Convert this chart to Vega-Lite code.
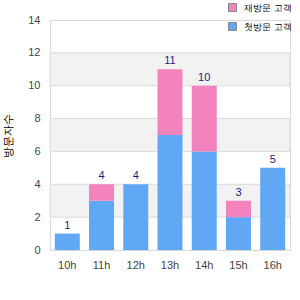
{
  "$schema": "https://vega.github.io/schema/vega-lite/v6.json",
  "width": 240,
  "height": 230,
  "autosize": {"type": "none"},
  "padding": {"left": 50, "top": 20, "right": 10, "bottom": 50},
  "config": {
    "font": "Liberation Sans",
    "view": {"stroke": "#d9d9d9"}
  },
  "datasets": {
    "visits": [
      {"hour": "10h", "type": "첫방문 고객", "count": 1},
      {"hour": "11h", "type": "첫방문 고객", "count": 3},
      {"hour": "12h", "type": "첫방문 고객", "count": 4},
      {"hour": "13h", "type": "첫방문 고객", "count": 7},
      {"hour": "14h", "type": "첫방문 고객", "count": 6},
      {"hour": "15h", "type": "첫방문 고객", "count": 2},
      {"hour": "16h", "type": "첫방문 고객", "count": 5},
      {"hour": "11h", "type": "재방문 고객", "count": 1},
      {"hour": "13h", "type": "재방문 고객", "count": 4},
      {"hour": "14h", "type": "재방문 고객", "count": 4},
      {"hour": "15h", "type": "재방문 고객", "count": 1}
    ],
    "bands": [
      {"lo": 2, "hi": 4},
      {"lo": 6, "hi": 8},
      {"lo": 10, "hi": 12}
    ]
  },
  "resolve": {"axis": {"y": "independent"}},
  "layer": [
    {
      "data": {"name": "bands"},
      "mark": {"type": "rect", "fill": "#f2f2f2", "stroke": "#dcdcdc", "strokeWidth": 1},
      "encoding": {
        "y": {"field": "lo", "type": "quantitative", "scale": {"domain": [0, 14], "nice": false},
          "axis": {"title": "방문자수", "grid": false, "ticks": false, "domain": false,
            "values": [0, 2, 4, 6, 8, 10, 12, 14], "labelOverlap": false, "labelPadding": 10,
            "labelFontSize": 11, "labelColor": "#444",
            "titleFontSize": 11, "titleFontWeight": "normal", "titleColor": "#000",
            "titleX": -42, "titleY": 115, "titleAngle": -90, "titleAlign": "center", "titleBaseline": "middle"}},
        "y2": {"field": "hi"}
      }
    },
    {
      "data": {"name": "visits"},
      "mark": {"type": "bar"},
      "encoding": {
        "x": {"field": "hour", "type": "nominal", "sort": ["10h", "11h", "12h", "13h", "14h", "15h", "16h"],
          "scale": {"paddingInner": 0.27, "paddingOuter": 0.14},
          "axis": {"title": null, "labelAngle": 0, "ticks": false, "domain": false, "labelPadding": 9,
            "labelFontSize": 11, "labelColor": "#444"}},
        "y": {"field": "count", "type": "quantitative", "stack": "zero", "axis": null},
        "color": {"field": "type", "type": "nominal",
          "scale": {"domain": ["재방문 고객", "첫방문 고객"], "range": ["#f283bd", "#60a8f4"]},
          "legend": {"title": null, "orient": "none", "legendX": 178, "legendY": -17,
            "symbolType": "square", "symbolSize": 64, "symbolStrokeColor": "#888", "symbolStrokeWidth": 1,
            "labelFontSize": 9, "labelColor": "#000", "rowPadding": 6, "labelOffset": 7, "labelLimit": 80}},
        "order": {"field": "type", "sort": "descending"}
      }
    },
    {
      "data": {"name": "visits"},
      "transform": [{"aggregate": [{"op": "sum", "field": "count", "as": "total"}], "groupby": ["hour"]}],
      "mark": {"type": "text", "baseline": "bottom", "dy": -3, "fontSize": 11, "color": "#1a1a8c"},
      "encoding": {
        "x": {"field": "hour", "type": "nominal", "sort": ["10h", "11h", "12h", "13h", "14h", "15h", "16h"]},
        "y": {"field": "total", "type": "quantitative", "axis": null},
        "text": {"field": "total", "type": "quantitative"}
      }
    }
  ]
}
